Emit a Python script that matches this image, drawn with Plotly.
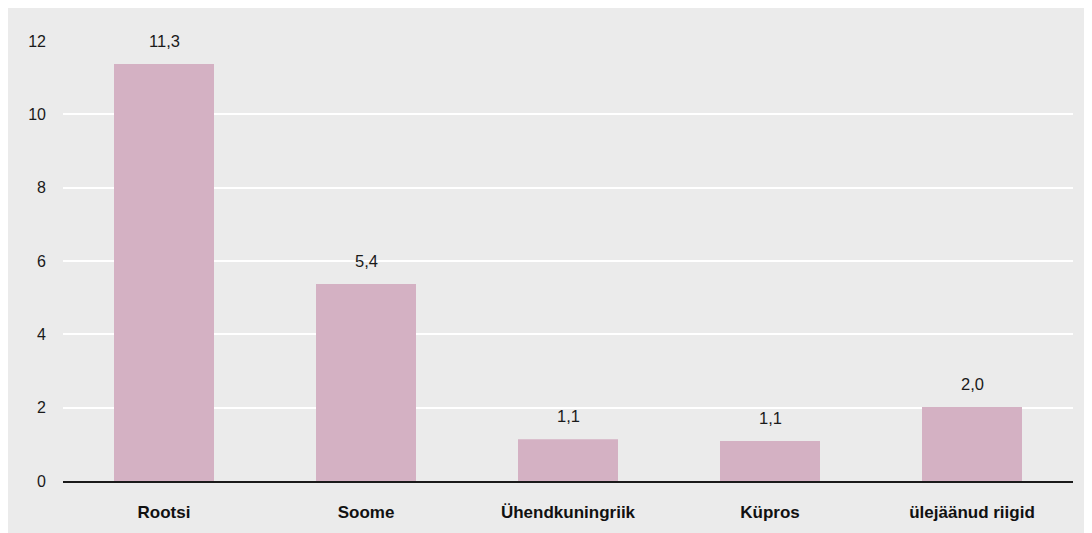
import plotly.graph_objects as go

categories = ["Rootsi", "Soome", "Ühendkuningriik", "Küpros", "ülejäänud riigid"]
values = [11.37, 5.37, 1.14, 1.09, 2.02]
value_labels = ["11,3", "5,4", "1,1", "1,1", "2,0"]
y_ticks = [0, 2, 4, 6, 8, 10, 12]

W, H = 1084, 525
L, R, T, B = 55, 19, 33, 52

FONT = "Liberation Sans, Arial, sans-serif"

fig = go.Figure()
fig.add_trace(go.Bar(
    x=categories, y=values,
    marker=dict(color="#d4b1c3", line=dict(width=0)),
    width=0.495,
    hoverinfo="skip",
))

for c, v, t in zip(categories, values, value_labels):
    fig.add_annotation(x=c, y=v, text=t, showarrow=False,
                       yanchor="bottom", yshift=12,
                       font=dict(size=16.5, color="#1a1a1a", family=FONT))

fig.update_layout(
    width=W, height=H,
    margin=dict(l=L, r=R, t=T, b=B, pad=0),
    paper_bgcolor="#ebebeb",
    plot_bgcolor="#ebebeb",
    showlegend=False,
    font=dict(family=FONT, size=16, color="#1a1a1a"),
    xaxis=dict(
        showgrid=False, showline=True, linecolor="#1a1a1a", linewidth=2,
        ticks="", tickfont=dict(size=17, color="#111111", family=FONT),
        ticklabelstandoff=15,
        tickvals=categories, ticktext=["<b>" + c + "</b>" for c in categories],
    ),
    yaxis=dict(
        range=[0, 12], tickvals=y_ticks,
        showgrid=True, gridcolor="white", gridwidth=2,
        zeroline=False, showline=False, ticks="",
        tickfont=dict(size=16, color="#1a1a1a", family=FONT),
        ticklabelstandoff=16,
    ),
)

fig.write_html("out.html")
